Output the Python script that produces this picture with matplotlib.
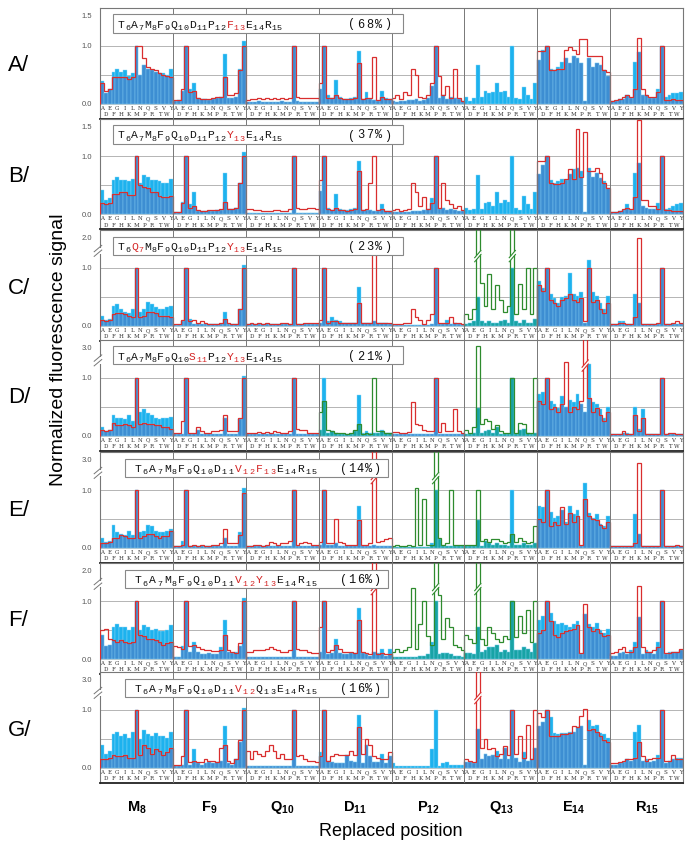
import numpy as np
import matplotlib
matplotlib.use("Agg")
import matplotlib.pyplot as plt
from matplotlib.patches import Rectangle, Polygon

plt.rcParams['font.family'] = ['Liberation Sans', 'DejaVu Sans']
plt.rcParams['mathtext.fontset'] = 'custom'
plt.rcParams['mathtext.rm'] = 'Liberation Sans'
plt.rcParams['mathtext.bf'] = 'Liberation Sans:bold'

# ---------------- data ----------------
amino = list("ADEFGHIKLMNPQRSTVWY")
columns = [("M", "8"), ("F", "9"), ("Q", "10"), ("D", "11"), ("P", "12"), ("Q", "13"), ("E", "14"), ("R", "15")]
row_names = ["A/", "B/", "C/", "D/", "E/", "F/", "G/"]
top_labels = [1.5, 1.5, 2.0, 3.0, 3.0, 2.0, 3.0]
percents = ["68%", "37%", "23%", "21%", "14%", "16%", "16%"]

seq_A = [("T", "6", 0), ("A", "7", 0), ("M", "8", 0), ("F", "9", 0), ("Q", "10", 0), ("D", "11", 0), ("P", "12", 0), ("F", "13", 1), ("E", "14", 0), ("R", "15", 0)]
seq_B = [("T", "6", 0), ("A", "7", 0), ("M", "8", 0), ("F", "9", 0), ("Q", "10", 0), ("D", "11", 0), ("P", "12", 0), ("Y", "13", 1), ("E", "14", 0), ("R", "15", 0)]
seq_C = [("T", "6", 0), ("Q", "7", 1), ("M", "8", 0), ("F", "9", 0), ("Q", "10", 0), ("D", "11", 0), ("P", "12", 0), ("Y", "13", 1), ("E", "14", 0), ("R", "15", 0)]
seq_D = [("T", "6", 0), ("A", "7", 0), ("M", "8", 0), ("F", "9", 0), ("Q", "10", 0), ("S", "11", 1), ("P", "12", 0), ("Y", "13", 1), ("E", "14", 0), ("R", "15", 0)]
seq_E = [("T", "6", 0), ("A", "7", 0), ("M", "8", 0), ("F", "9", 0), ("Q", "10", 0), ("D", "11", 0), ("V", "12", 1), ("F", "13", 1), ("E", "14", 0), ("R", "15", 0)]
seq_F = [("T", "6", 0), ("A", "7", 0), ("M", "8", 0), ("F", "9", 0), ("Q", "10", 0), ("D", "11", 0), ("V", "12", 1), ("Y", "13", 1), ("E", "14", 0), ("R", "15", 0)]
seq_G = [("T", "6", 0), ("A", "7", 0), ("M", "8", 0), ("F", "9", 0), ("Q", "10", 0), ("D", "11", 0), ("V", "12", 1), ("Q", "13", 0), ("E", "14", 0), ("R", "15", 0)]

# values in percent of the normalized signal (19 residues per replaced position)
blue_A = [
    [39, 18, 25, 54, 60, 55, 57, 48, 52, 100, 50, 66, 60, 58, 55, 52, 52, 50, 60],
    [4, 6, 22, 100, 25, 36, 10, 8, 8, 6, 8, 10, 12, 85, 10, 10, 12, 60, 107],
    [3, 3, 3, 4, 3, 3, 3, 3, 3, 4, 3, 3, 100, 4, 3, 3, 3, 3, 3],
    [25, 100, 15, 10, 40, 12, 8, 8, 10, 12, 90, 8, 20, 8, 6, 5, 22, 10, 8],
    [5, 3, 4, 5, 6, 6, 8, 5, 6, 10, 30, 100, 10, 15, 8, 12, 10, 8, 5],
    [12, 5, 10, 67, 12, 22, 18, 20, 35, 20, 22, 12, 100, 10, 8, 28, 15, 8, 35],
    [75, 92, 100, 60, 57, 63, 72, 78, 70, 82, 78, 70, 4, 78, 63, 70, 66, 57, 48],
    [4, 5, 8, 8, 15, 10, 72, 88, 15, 15, 10, 10, 25, 100, 12, 15, 18, 18, 20],
]
red_A = [
    [35, 22, 25, 45, 45, 45, 45, 42, 45, 100, 100, 78, 63, 60, 57, 52, 50, 48, 45],
    [6, 6, 25, 100, 20, 22, 10, 8, 8, 8, 10, 12, 12, 45, 15, 15, 18, 58, 100],
    [6, 8, 8, 10, 8, 10, 8, 10, 8, 10, 8, 10, 100, 12, 10, 10, 10, 10, 10],
    [35, 100, 10, 10, 15, 10, 8, 8, 8, 10, 70, 8, 10, 10, 80, 6, 12, 8, 8],
    [10, 15, 8, 20, 15, 60, 50, 12, 10, 15, 35, 100, 48, 15, 30, 10, 60, 10, 5],
    None,
    [90, 90, 100, 58, 58, 60, 60, 92, 98, 92, 85, 110, 110, 82, 82, 82, 82, 58, 55],
    [4, 6, 8, 12, 15, 12, 25, 112, 25, 15, 12, 12, 20, 100, 6, 6, 8, 6, 6],
]
green_A = [None] * 8

blue_B = [
    [42, 25, 28, 60, 65, 60, 60, 57, 62, 100, 55, 68, 65, 60, 60, 58, 55, 55, 62],
    [5, 5, 22, 100, 18, 38, 6, 6, 6, 6, 6, 8, 8, 72, 10, 10, 12, 55, 108],
    [3, 3, 3, 3, 3, 3, 3, 3, 3, 3, 3, 3, 100, 3, 3, 3, 3, 3, 3],
    [40, 100, 12, 8, 35, 10, 8, 8, 10, 12, 92, 8, 8, 8, 6, 6, 18, 6, 6],
    [5, 4, 4, 5, 5, 6, 6, 6, 8, 10, 28, 100, 10, 12, 8, 10, 8, 6, 6],
    [12, 8, 10, 68, 10, 20, 22, 15, 38, 20, 25, 22, 100, 12, 8, 32, 18, 10, 38],
    [70, 85, 100, 60, 55, 58, 62, 60, 70, 78, 80, 75, 5, 80, 65, 72, 63, 58, 45],
    [5, 5, 6, 8, 18, 8, 72, 88, 15, 12, 10, 10, 20, 100, 10, 12, 15, 18, 20],
]
red_B = [
    [20, 18, 20, 35, 35, 38, 38, 33, 33, 100, 50, 48, 45, 38, 38, 32, 30, 30, 32],
    [5, 5, 20, 100, 12, 15, 8, 6, 6, 8, 8, 8, 10, 22, 10, 10, 12, 55, 100],
    [10, 10, 8, 8, 6, 6, 6, 8, 8, 6, 6, 10, 100, 12, 10, 10, 12, 12, 10],
    [60, 100, 10, 8, 12, 8, 8, 6, 8, 10, 75, 8, 10, 55, 100, 8, 10, 6, 6],
    [8, 10, 6, 8, 10, 55, 38, 15, 30, 10, 20, 100, 12, 55, 25, 18, 12, 15, 8],
    None,
    [92, 92, 100, 55, 52, 52, 55, 62, 78, 62, 145, 65, 140, 75, 75, 80, 72, 55, 45],
    [5, 5, 6, 10, 12, 10, 30, 160, 25, 25, 15, 15, 10, 100, 8, 8, 6, 6, 6],
]
green_B = [None] * 8

blue_C = [
    [18, 10, 12, 35, 38, 30, 25, 22, 30, 100, 25, 30, 42, 38, 33, 30, 30, 33, 35],
    [2, 2, 8, 100, 12, 3, 3, 3, 3, 3, 3, 3, 3, 25, 3, 3, 3, 30, 110],
    [3, 3, 3, 3, 3, 3, 3, 3, 3, 3, 3, 3, 100, 3, 3, 3, 3, 3, 3],
    [6, 100, 8, 15, 10, 8, 6, 5, 6, 6, 68, 5, 5, 5, 8, 5, 6, 6, 4],
    [2, 2, 2, 2, 2, 2, 2, 2, 2, 2, 3, 100, 3, 3, 10, 3, 6, 3, 2],
    [4, 6, 8, 50, 8, 6, 8, 5, 6, 8, 10, 6, 100, 8, 6, 10, 6, 6, 12],
    [78, 65, 100, 55, 48, 40, 50, 52, 92, 55, 52, 58, 5, 125, 58, 52, 40, 30, 52],
    [3, 3, 8, 8, 4, 4, 55, 40, 3, 3, 3, 3, 3, 100, 3, 3, 3, 3, 3],
]
red_C = [
    [10, 8, 10, 20, 22, 22, 20, 18, 15, 100, 15, 18, 25, 25, 22, 18, 18, 18, 15],
    [3, 3, 10, 100, 8, 10, 6, 8, 6, 3, 3, 3, 6, 12, 6, 3, 3, 30, 100],
    [3, 5, 3, 5, 3, 5, 3, 3, 3, 5, 5, 3, 100, 3, 3, 5, 5, 5, 5],
    [10, 100, 6, 8, 8, 6, 5, 5, 5, 6, 40, 5, 5, 5, 168, 5, 5, 5, 5],
    [3, 3, 3, 5, 5, 30, 15, 10, 3, 10, 20, 100, 5, 5, 5, 15, 5, 5, 3],
    None,
    [70, 60, 100, 45, 40, 35, 45, 48, 55, 45, 42, 48, 8, 100, 42, 45, 30, 22, 40],
    [3, 3, 5, 5, 3, 3, 15, 200, 3, 3, 3, 3, 5, 100, 3, 3, 5, 8, 5],
]
green_C = [None, None, None, None, None,
           [20, 12, 30, 300, 75, 35, 90, 30, 70, 45, 25, 35, 300, 20, 72, 30, 100, 20, 100],
           None, None]

blue_D = [
    [15, 8, 10, 35, 30, 30, 28, 35, 25, 100, 40, 45, 38, 35, 30, 28, 30, 30, 32],
    [3, 3, 3, 100, 3, 3, 10, 3, 3, 3, 3, 3, 3, 30, 3, 3, 3, 28, 110],
    [3, 3, 3, 3, 3, 3, 3, 3, 3, 3, 3, 3, 100, 3, 3, 3, 3, 3, 3],
    [10, 100, 5, 8, 5, 3, 3, 3, 3, 8, 70, 5, 8, 5, 5, 5, 10, 5, 5],
    [2, 2, 2, 2, 2, 2, 2, 2, 2, 2, 3, 100, 3, 3, 3, 3, 3, 3, 2],
    [3, 3, 5, 47, 5, 8, 10, 5, 15, 3, 3, 3, 100, 3, 10, 12, 5, 3, 5],
    [72, 75, 100, 60, 55, 48, 68, 50, 62, 58, 72, 55, 40, 190, 58, 55, 45, 30, 50],
    [3, 3, 3, 5, 5, 3, 50, 12, 45, 3, 3, 3, 3, 100, 3, 3, 3, 3, 3],
]
red_D = [
    [10, 8, 10, 22, 18, 18, 20, 18, 15, 100, 20, 22, 20, 20, 18, 18, 15, 15, 12],
    [5, 5, 25, 100, 5, 5, 15, 8, 5, 5, 8, 8, 10, 35, 8, 8, 8, 30, 100],
    [5, 5, 5, 6, 5, 6, 5, 8, 6, 5, 5, 8, 100, 12, 10, 10, 5, 5, 5],
    None,
    [6, 6, 4, 4, 6, 58, 20, 18, 10, 8, 8, 100, 6, 22, 8, 8, 45, 8, 5],
    None,
    [60, 55, 100, 45, 50, 40, 55, 200, 40, 50, 45, 60, 400, 65, 40, 48, 35, 25, 40],
    [3, 3, 3, 8, 3, 3, 35, 8, 30, 3, 3, 3, 3, 100, 3, 5, 5, 3, 3],
]
green_D = [None, None, None,
           [40, 60, 10, 8, 5, 5, 5, 3, 5, 10, 20, 3, 5, 3, 100, 8, 8, 5, 5],
           None,
           [10, 5, 15, 310, 20, 28, 25, 12, 18, 8, 5, 5, 100, 5, 22, 20, 5, 5, 100],
           None, None]

blue_E = [
    [18, 10, 12, 40, 28, 25, 22, 30, 22, 100, 28, 30, 40, 38, 30, 28, 28, 30, 32],
    [3, 3, 12, 100, 3, 3, 3, 3, 3, 3, 3, 3, 3, 18, 3, 3, 3, 28, 112],
    [3, 3, 3, 3, 3, 3, 3, 3, 3, 3, 3, 3, 100, 3, 3, 3, 3, 3, 3],
    [6, 100, 5, 5, 8, 3, 3, 3, 3, 3, 72, 3, 3, 3, 5, 3, 3, 3, 3],
    [2, 2, 2, 2, 2, 2, 2, 2, 2, 2, 8, 100, 15, 3, 3, 3, 3, 3, 3],
    [3, 3, 3, 48, 3, 12, 8, 5, 8, 5, 5, 3, 100, 5, 5, 8, 5, 5, 8],
    [72, 70, 100, 62, 52, 56, 65, 45, 72, 58, 65, 4, 145, 60, 52, 58, 42, 38, 55],
    [3, 3, 3, 3, 3, 3, 58, 25, 3, 3, 3, 3, 3, 100, 3, 3, 3, 3, 3],
]
red_E = [
    [8, 8, 10, 18, 18, 22, 20, 18, 18, 100, 18, 20, 25, 24, 20, 18, 20, 20, 30],
    [3, 3, 6, 100, 3, 5, 3, 5, 3, 3, 5, 5, 8, 32, 8, 8, 8, 22, 95],
    [3, 3, 5, 5, 3, 5, 10, 8, 5, 8, 8, 12, 100, 5, 8, 10, 8, 5, 5],
    [10, 100, 8, 8, 50, 10, 8, 5, 5, 5, 48, 5, 5, 8, 400, 10, 12, 15, 18],
    None,
    None,
    [50, 45, 100, 38, 45, 40, 70, 42, 60, 45, 55, 5, 85, 55, 50, 48, 40, 35, 45],
    [3, 3, 3, 3, 3, 3, 8, 280, 3, 3, 3, 3, 3, 100, 3, 3, 3, 5, 3],
]
green_E = [None, None, None, None,
           [3, 5, 3, 3, 5, 3, 115, 5, 85, 5, 5, 400, 18, 5, 8, 100, 5, 5, 5],
           [5, 5, 5, 100, 12, 15, 10, 15, 15, 12, 8, 10, 25, 10, 18, 12, 8, 10, 38],
           None, None]

blue_F = [
    [42, 22, 25, 55, 60, 55, 55, 50, 55, 100, 50, 58, 55, 50, 52, 48, 48, 50, 58],
    [4, 4, 22, 100, 12, 30, 12, 8, 8, 10, 8, 8, 20, 68, 12, 10, 12, 22, 110],
    [3, 3, 3, 3, 3, 3, 3, 3, 3, 3, 3, 3, 100, 3, 3, 3, 3, 3, 3],
    [12, 100, 8, 10, 35, 10, 8, 8, 10, 10, 88, 10, 8, 5, 12, 10, 18, 5, 18],
    [3, 3, 3, 3, 3, 3, 3, 5, 5, 8, 30, 100, 8, 10, 10, 8, 6, 5, 3],
    [10, 10, 8, 55, 12, 15, 20, 20, 25, 12, 15, 12, 100, 15, 15, 20, 18, 12, 28],
    [68, 75, 100, 80, 65, 60, 62, 58, 55, 60, 65, 8, 78, 60, 55, 62, 50, 45, 52],
    [5, 5, 10, 12, 8, 15, 30, 72, 8, 15, 12, 8, 30, 100, 8, 12, 12, 12, 15],
]
red_F = [
    [50, 52, 35, 32, 30, 32, 30, 28, 30, 100, 42, 40, 35, 35, 32, 30, 25, 28, 30],
    [22, 20, 18, 100, 22, 25, 20, 18, 15, 15, 14, 14, 15, 42, 15, 12, 10, 28, 100],
    [12, 12, 15, 15, 15, 18, 20, 18, 15, 12, 12, 15, 100, 18, 15, 15, 12, 10, 10],
    [55, 100, 12, 15, 25, 18, 12, 12, 12, 10, 68, 12, 10, 8, 300, 8, 10, 8, 8],
    None,
    None,
    [45, 50, 100, 65, 42, 38, 45, 48, 50, 52, 58, 10, 95, 55, 48, 52, 45, 40, 42],
    [10, 12, 18, 20, 12, 12, 20, 150, 20, 12, 12, 15, 20, 100, 10, 10, 12, 12, 18],
]
green_F = [None, None, None, None,
           [12, 18, 12, 15, 20, 142, 18, 60, 100, 40, 25, 300, 120, 35, 70, 55, 25, 20, 15],
           [42, 35, 28, 300, 35, 25, 55, 45, 35, 30, 40, 35, 100, 38, 75, 45, 85, 30, 100],
           None, None]

blue_G = [
    [40, 25, 30, 58, 62, 55, 58, 52, 62, 100, 50, 65, 58, 55, 60, 56, 55, 52, 62],
    [4, 4, 5, 100, 5, 32, 8, 5, 8, 10, 8, 10, 12, 72, 8, 5, 15, 45, 110],
    [3, 3, 3, 3, 3, 3, 3, 3, 3, 3, 3, 3, 100, 3, 3, 3, 3, 3, 3],
    [28, 100, 12, 10, 8, 8, 8, 22, 12, 10, 92, 8, 40, 20, 10, 10, 25, 8, 20],
    [8, 4, 3, 4, 3, 4, 3, 3, 3, 4, 33, 100, 3, 8, 10, 6, 5, 6, 5],
    [10, 10, 8, 68, 15, 25, 20, 22, 30, 15, 35, 15, 100, 18, 10, 28, 12, 15, 35],
    [72, 80, 100, 88, 60, 58, 60, 60, 62, 62, 70, 72, 5, 82, 72, 75, 60, 58, 52],
    [5, 6, 8, 10, 15, 12, 62, 75, 12, 15, 10, 12, 22, 100, 8, 12, 15, 18, 18],
]
red_G = [
    [15, 15, 18, 22, 20, 20, 22, 18, 18, 100, 22, 40, 35, 25, 32, 30, 22, 28, 35],
    [5, 5, 20, 100, 10, 12, 10, 10, 15, 12, 12, 10, 35, 40, 12, 8, 15, 48, 100],
    [30, 15, 30, 25, 20, 30, 40, 30, 18, 25, 15, 15, 100, 20, 22, 15, 12, 12, 10],
    [20, 100, 12, 20, 25, 22, 22, 22, 30, 22, 70, 25, 50, 40, 20, 18, 15, 15, 28],
    None,
    [15, 12, 10, 400, 35, 50, 32, 35, 20, 25, 38, 22, 100, 25, 55, 18, 75, 15, 100],
    [95, 88, 100, 55, 55, 55, 58, 58, 60, 72, 70, 90, 105, 65, 68, 62, 55, 48, 45],
    [8, 8, 10, 12, 15, 15, 18, 45, 20, 12, 15, 18, 18, 100, 12, 12, 22, 15, 15],
]
green_G = [None] * 8

blues = [blue_A, blue_B, blue_C, blue_D, blue_E, blue_F, blue_G]
reds = [red_A, red_B, red_C, red_D, red_E, red_F, red_G]
greens = [green_A, green_B, green_C, green_D, green_E, green_F, green_G]
seqs = [seq_A, seq_B, seq_C, seq_D, seq_E, seq_F, seq_G]

# ---------------- style / layout ----------------
W, H = 691, 849
BLUE = '#1db2ee'
BLUE_EDGE = '#8fd8f6'
OVER_RED = '#3d8ed2'
OVER_GREEN = '#17a3a6'
RED = '#d92e2e'
GREEN = '#2e8b2e'
TXT_RED = '#d42424'

X_LEFT, X_RIGHT = 100, 683
zero_px = [103.5, 214.5, 326, 435.5, 548, 659, 768]
UNIT = 58.0          # pixels per 1.0 below the break
TOP_D = 1.65         # display height of the frame top
LAB_PX = 15.0        # height of the residue label strip
TOP_LABEL_D = 1.52
NPER = 19

fig = plt.figure(figsize=(W / 100, H / 100), dpi=100)


def px2fig(x, y):
    return x / W, 1 - y / H


def make_scale(k):
    def fwd(y):
        y = np.asarray(y, dtype=float)
        return np.where(y <= 1, y, 1 + (y - 1) * k)

    def inv(t):
        t = np.asarray(t, dtype=float)
        return np.where(t <= 1, t, 1 + (t - 1) / k)
    return fwd, inv


def draw_break(ax, inv, xl, xr, yb, color):
    ys = [float(inv(yb - 0.08)), float(inv(yb + 0.06)), float(inv(yb + 0.13)), float(inv(yb - 0.01))]
    ax.add_patch(Polygon([(xl, ys[0]), (xr, ys[1]), (xr, ys[2]), (xl, ys[3])], closed=True,
                         facecolor='white', edgecolor='none', zorder=6))
    ax.plot([xl, xr], [ys[0], ys[1]], color=color, lw=0.8, zorder=7, solid_capstyle='butt')
    ax.plot([xl, xr], [ys[3], ys[2]], color=color, lw=0.8, zorder=7, solid_capstyle='butt')


for r in range(7):
    y0 = zero_px[r]
    top_val = top_labels[r]
    k = (TOP_LABEL_D - 1) / (top_val - 1)
    fwd, inv = make_scale(k)
    ytop_data = float(inv(TOP_D))
    ybot = -LAB_PX / UNIT

    top_px = y0 - TOP_D * UNIT
    bot_px = y0 + LAB_PX
    l, b = px2fig(X_LEFT, bot_px)
    ax = fig.add_axes([l, b, (X_RIGHT - X_LEFT) / W, (bot_px - top_px) / H])
    ax.set_yscale('function', functions=(fwd, inv))
    ax.set_xlim(0, NPER * 8)
    ax.set_ylim(ybot, ytop_data)

    for sp in ['left', 'right', 'top']:
        ax.spines[sp].set_color('#777777')
        ax.spines[sp].set_linewidth(0.8)
    ax.spines['bottom'].set_color('#222222')
    ax.spines['bottom'].set_linewidth(1.3)

    ax.set_xticks([])
    ax.set_yticks([0, 1, top_val])
    ax.set_yticklabels(['0.0', '1.0', f'{top_val:.1f}'])
    ax.yaxis.set_minor_locator(matplotlib.ticker.NullLocator())
    ax.tick_params(axis='y', length=0, pad=6, labelsize=5.5, labelcolor='#555555')

    for g in (0.5, 1.0):
        ax.axhline(g, color='#a8a8a8', lw=0.6, zorder=0.5)
    ax.axhline(0, color='#aaaaaa', lw=0.5, zorder=0.5)
    for c in range(1, 8):
        ax.axvline(c * NPER, color='#777777', lw=0.7, zorder=4)

    for c in range(8):
        x = np.arange(NPER) + c * NPER
        edges = np.arange(NPER + 1) + c * NPER
        bv = np.array(blues[r][c]) / 100.0
        ax.bar(x, bv, width=1.0, align='edge', color=BLUE, edgecolor=BLUE_EDGE, linewidth=0.3, zorder=2)
        for series, over_col, line_col in ((reds[r][c], OVER_RED, RED), (greens[r][c], OVER_GREEN, GREEN)):
            if series is None:
                continue
            sv = np.array(series) / 100.0
            ax.bar(x, np.minimum(bv, sv), width=1.0, align='edge', color=over_col,
                   edgecolor=BLUE_EDGE, linewidth=0.25, zorder=2.5)
            ax.stairs(sv, edges, baseline=0, color=line_col, lw=0.9, zorder=3)
            for j in np.where(sv > ytop_data)[0]:
                draw_break(ax, inv, x[j] - 0.4, x[j] + 1.4, 1.18, line_col)
        for j, aa in enumerate(amino):
            yl = -4.5 / UNIT if j % 2 == 0 else -10.8 / UNIT
            ax.text(x[j] + 0.5, yl, aa, ha='center', va='center', fontsize=4.0,
                    family='DejaVu Serif', color='#333333', zorder=5)

    # axis break on the left spine
    if top_val > 1.5:
        tr = ax.get_yaxis_transform()
        yb = 1.26
        ax.add_patch(Rectangle((-0.004, float(inv(yb - 0.02))), 0.008,
                               float(inv(yb + 0.09)) - float(inv(yb - 0.02)),
                               transform=tr, facecolor='white', edgecolor='none', zorder=6, clip_on=False))
        for off in (0.0, 0.08):
            ax.plot([-0.010, 0.003], [float(inv(yb - 0.06 + off)), float(inv(yb + 0.05 + off))],
                    transform=tr, color='#777777', lw=0.7, clip_on=False, zorder=7)

    # row label
    fx, fy = px2fig(8, y0 - 38)
    fig.text(fx, fy, row_names[r], fontsize=16, ha='left', va='center', color='black')

    # sequence box
    if r < 4:
        bx0, bx1, tx0, madv, sadv, px0, padv = 113, 403, 118, 7.2, 5.8, 348, 9.0
    else:
        bx0, bx1, tx0, madv, sadv, px0, padv = 125, 388, 135, 7.8, 6.6, 340, 8.4
    btop, bbot = y0 - 89, y0 - 71
    rx, ry = px2fig(bx0, bbot)
    fig.add_artist(Rectangle((rx, ry), (bx1 - bx0) / W, (bbot - btop) / H, transform=fig.transFigure,
                             facecolor='white', edgecolor='#888888', lw=0.8, zorder=8))
    base = bbot - 5
    xc = tx0
    for letter, num, is_red in seqs[r]:
        colr = TXT_RED if is_red else '#111111'
        fig.text(*px2fig(xc, base), letter, fontsize=8.2, family='Liberation Mono',
                 color=colr, ha='left', va='baseline', zorder=9)
        xc += madv
        for d in num:
            fig.text(*px2fig(xc, base + 2.5), d, fontsize=6.0, family='Liberation Mono',
                     color=colr, ha='left', va='baseline', zorder=9)
            xc += sadv
    xc = px0
    for ch in "(" + percents[r] + ")":
        fig.text(*px2fig(xc, base), ch, fontsize=8.6, family='Liberation Mono',
                 color='#111111', ha='left', va='baseline', zorder=9)
        xc += padv

# column names
colw = (X_RIGHT - X_LEFT) / 8
for c, (let, num) in enumerate(columns):
    fig.text(*px2fig(X_LEFT + colw * (c + 0.5), 808), r"$\mathbf{%s}_{\mathbf{%s}}$" % (let, num),
             fontsize=10.5, ha='center', va='center')

fig.text(*px2fig(391, 831), "Replaced position", fontsize=13, ha='center', va='center')
fig.text(*px2fig(59, 350), "Normalized fluorescence signal", fontsize=14, ha='center',
         va='center', rotation=90)

fig.savefig("out.png", dpi=100)
